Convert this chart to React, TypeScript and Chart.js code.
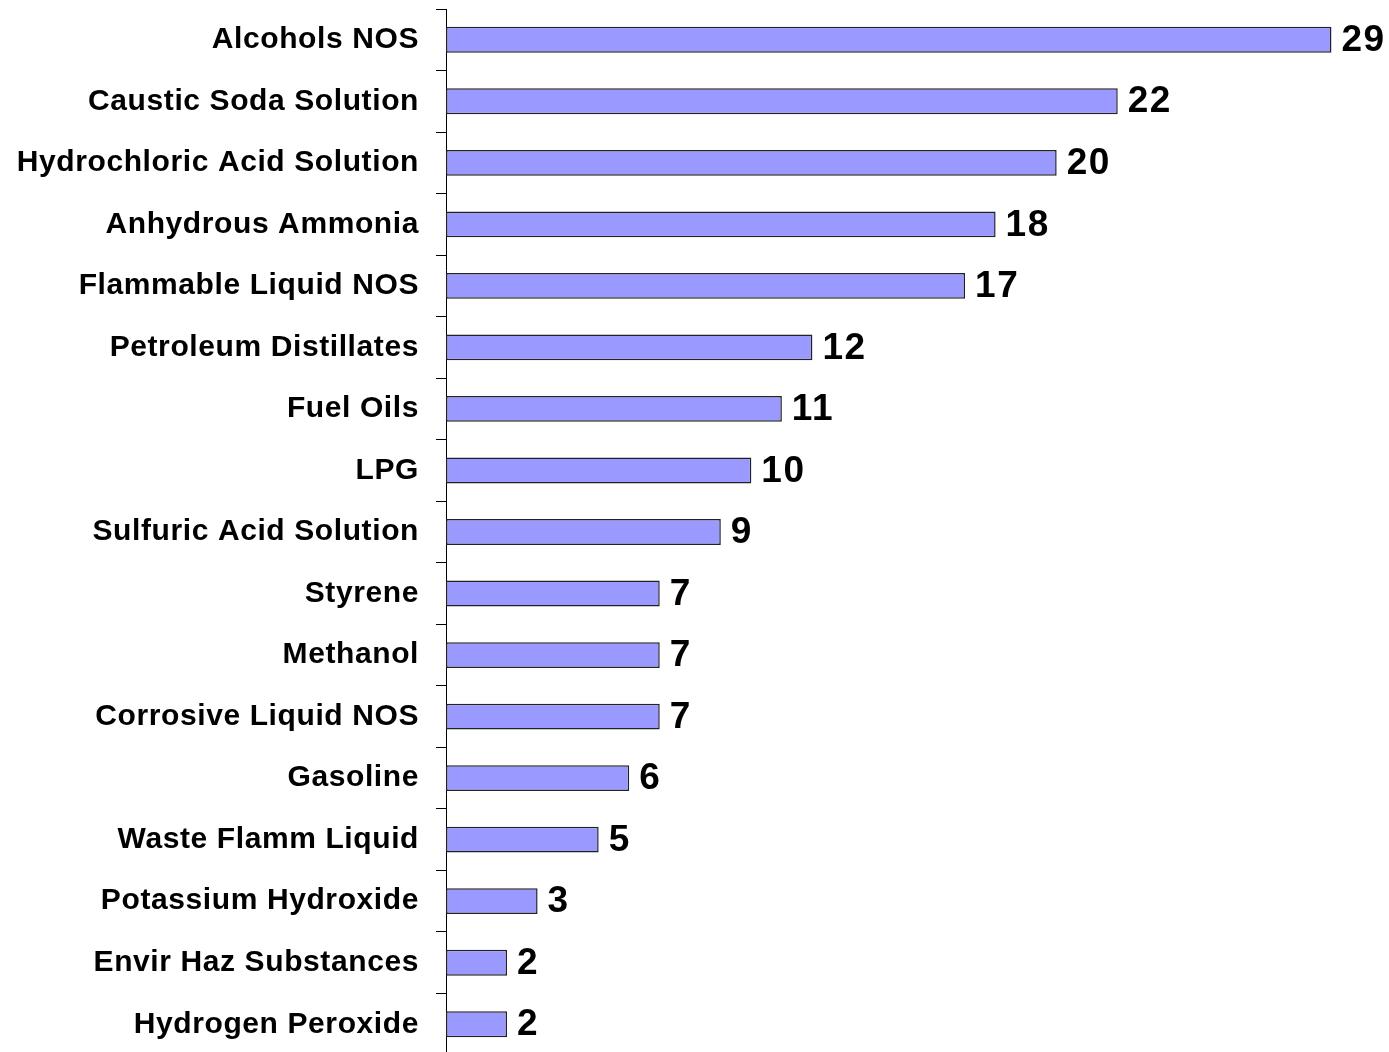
import React, { useEffect, useRef } from "react";
import { Chart, registerables } from "chart.js";

Chart.register(...registerables);

const categories = [
  "Alcohols NOS",
  "Caustic Soda Solution",
  "Hydrochloric Acid Solution",
  "Anhydrous Ammonia",
  "Flammable Liquid NOS",
  "Petroleum Distillates",
  "Fuel Oils",
  "LPG",
  "Sulfuric Acid Solution",
  "Styrene",
  "Methanol",
  "Corrosive Liquid NOS",
  "Gasoline",
  "Waste Flamm Liquid",
  "Potassium Hydroxide",
  "Envir Haz Substances",
  "Hydrogen Peroxide",
];

const values = [29, 22, 20, 18, 17, 12, 11, 10, 9, 7, 7, 7, 6, 5, 3, 2, 2];

const FONT = "'Liberation Sans', Arial, Helvetica, sans-serif";

const spacingPlugin = {
  id: "spacing",
  beforeDraw(chart: any) {
    (chart.ctx as any).letterSpacing = "0.6px";
  },
  afterDraw(chart: any) {
    (chart.ctx as any).letterSpacing = "0px";
  },
};

const valueLabelPlugin = {
  id: "valueLabels",
  afterDatasetsDraw(chart: any) {
    const ctx = chart.ctx;
    const meta = chart.getDatasetMeta(0);
    ctx.save();
    ctx.font = `bold 37px ${FONT}`;
    (ctx as any).letterSpacing = "1.5px";
    ctx.fillStyle = "#000";
    ctx.textAlign = "left";
    ctx.textBaseline = "middle";
    meta.data.forEach((bar: any, i: number) => {
      ctx.fillText(String(values[i]), bar.x + 10, bar.y + 1);
    });
    ctx.restore();
  },
};

export default function App() {
  const ref = useRef<HTMLCanvasElement | null>(null);

  useEffect(() => {
    if (!ref.current) return;
    const chart = new Chart(ref.current, {
      type: "bar",
      data: {
        labels: categories,
        datasets: [
          {
            data: values,
            backgroundColor: "#9999FF",
            borderColor: "#222",
            borderWidth: 1.5,
            borderSkipped: false,
            barPercentage: 0.7,
            categoryPercentage: 0.6,
          },
        ],
      },
      options: {
        indexAxis: "y",
        responsive: false,
        animation: false,
        layout: { padding: { top: 9, bottom: 5, left: 0, right: 27 } },
        plugins: {
          legend: { display: false },
          tooltip: { enabled: false },
        },
        scales: {
          x: {
            display: false,
            min: 0,
            max: 30,
          },
          y: {
            afterFit(scale: any) {
              scale.width = 446;
              scale.paddingTop = 0;
              scale.paddingBottom = 0;
            },
            grid: {
              display: true,
              drawOnChartArea: false,
              drawTicks: true,
              tickLength: 10,
              color: "#000",
              offset: true,
            },
            border: { display: true, color: "#000", width: 1 },
            ticks: {
              color: "#000",
              padding: 17,
              autoSkip: false,
              font: { family: FONT, size: 30, weight: "bold" },
            },
          },
        },
      },
      plugins: [spacingPlugin, valueLabelPlugin],
    });
    return () => chart.destroy();
  }, []);

  return (
    <div
      style={{
        position: "fixed",
        left: 0,
        top: 0,
        width: 1389,
        height: 1052,
        overflow: "hidden",
        background: "#fff",
      }}
    >
      <canvas ref={ref} width={1389} height={1060} style={{ display: "block" }} />
    </div>
  );
}
